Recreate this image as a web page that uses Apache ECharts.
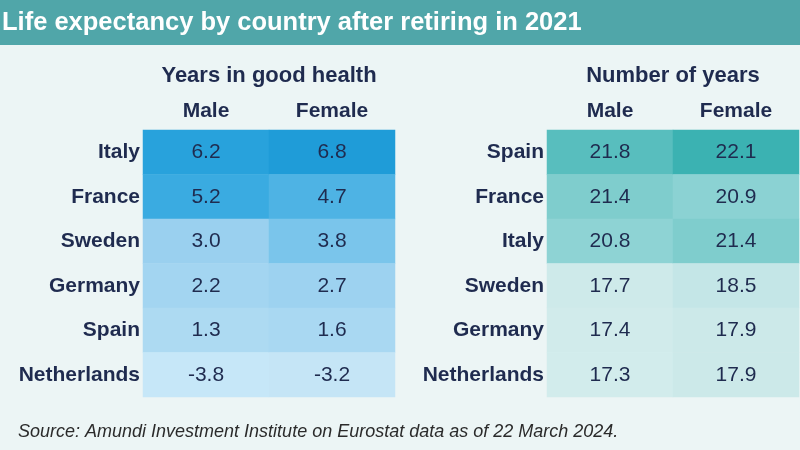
<!DOCTYPE html>
<html>
<head>
<meta charset="utf-8">
<script src="https://cdn.jsdelivr.net/npm/echarts@6/dist/echarts.min.js"></script>
<style>html,body{margin:0;padding:0;background:#ecf5f5;}#c{width:800px;height:450px;}</style>
</head>
<body>
<div id="c"></div>
<script>
const sexes = ['Male', 'Female'];
const healthCountries = ['Italy', 'France', 'Sweden', 'Germany', 'Spain', 'Netherlands'];
const healthMale = [6.2, 5.2, 3.0, 2.2, 1.3, -3.8];
const healthFemale = [6.8, 4.7, 3.8, 2.7, 1.6, -3.2];
const yearsCountries = ['Spain', 'France', 'Italy', 'Sweden', 'Germany', 'Netherlands'];
const yearsMale = [21.8, 21.4, 20.8, 17.7, 17.4, 17.3];
const yearsFemale = [22.1, 20.9, 21.4, 18.5, 17.9, 17.9];

const NAVY = '#1f2b4f';
const FONT = '"Liberation Sans", Arial, sans-serif';

function cells(male, female) {
  const out = [];
  male.forEach((v, i) => out.push([0, i, v]));
  female.forEach((v, i) => out.push([1, i, v]));
  return out;
}

const chart = echarts.init(document.getElementById('c'));
const xAxisBase = {
  type: 'category', data: sexes, position: 'top',
  axisLine: {show: false}, axisTick: {show: false}, splitLine: {show: false},
  axisLabel: {color: NAVY, fontWeight: 'bold', fontSize: 21, fontFamily: FONT, margin: 8}
};
const yAxisBase = {
  type: 'category', inverse: true,
  axisLine: {show: false}, axisTick: {show: false}, splitLine: {show: false},
  axisLabel: {color: NAVY, fontWeight: 'bold', fontSize: 21, fontFamily: FONT, margin: 3}
};
const labelBase = {
  show: true, color: NAVY, fontSize: 21, fontFamily: FONT,
  formatter: p => p.value[2].toFixed(1)
};

chart.setOption({
  animation: false,
  backgroundColor: '#ecf5f5',
  grid: [
    {left: 143, top: 130, width: 252, height: 267},
    {left: 547, top: 130, width: 252, height: 267}
  ],
  xAxis: [
    Object.assign({gridIndex: 0}, xAxisBase),
    Object.assign({gridIndex: 1}, xAxisBase)
  ],
  yAxis: [
    Object.assign({gridIndex: 0, data: healthCountries}, yAxisBase),
    Object.assign({gridIndex: 1, data: yearsCountries}, yAxisBase)
  ],
  visualMap: [
    {
      type: 'continuous', show: false, seriesIndex: 0, dimension: 2, min: -4, max: 7,
      inRange: {color: ['#c7e7f8', '#c4e5f6', '#c0e3f6', '#bce1f5', '#b6def4', '#b0dcf3',
                        '#a5d6f1', '#9ad0ef', '#72c2ea', '#3eade2', '#2ba4de', '#1c9ad6']}
    },
    {
      type: 'continuous', show: false, seriesIndex: 1, dimension: 2, min: 17, max: 22.5,
      inRange: {color: ['#d6eded', '#d0ebeb', '#cbe9e9', '#c4e6e7', '#b8e2e3', '#addedf',
                        '#a1d9da', '#95d5d6', '#89d1d2', '#7dcccc', '#3fb4b4', '#2aaaab']}
    }
  ],
  series: [
    {type: 'heatmap', xAxisIndex: 0, yAxisIndex: 0, data: cells(healthMale, healthFemale),
     label: labelBase, emphasis: {disabled: true}},
    {type: 'heatmap', xAxisIndex: 1, yAxisIndex: 1, data: cells(yearsMale, yearsFemale),
     label: labelBase, emphasis: {disabled: true}}
  ],
  graphic: [
    {type: 'rect', x: 0, y: 0, z: -1, shape: {width: 800, height: 45}, style: {fill: '#50a6a9'}},
    {type: 'text', x: 2, y: 23, style: {text: 'Life expectancy by country after retiring in 2021',
      fill: '#ffffff', font: 'bold 25.5px ' + FONT, textAlign: 'left', textVerticalAlign: 'middle'}},
    {type: 'text', x: 269, y: 76, style: {text: 'Years in good health',
      fill: NAVY, font: 'bold 22px ' + FONT, textAlign: 'center', textVerticalAlign: 'middle'}},
    {type: 'text', x: 673, y: 76, style: {text: 'Number of years',
      fill: NAVY, font: 'bold 22px ' + FONT, textAlign: 'center', textVerticalAlign: 'middle'}},
    {type: 'text', x: 18, y: 432, style: {text: 'Source: Amundi Investment Institute on Eurostat data as of 22 March 2024.',
      fill: '#2b2b2b', font: 'italic 18px ' + FONT, textAlign: 'left', textVerticalAlign: 'middle'}}
  ]
});
</script>
</body>
</html>
